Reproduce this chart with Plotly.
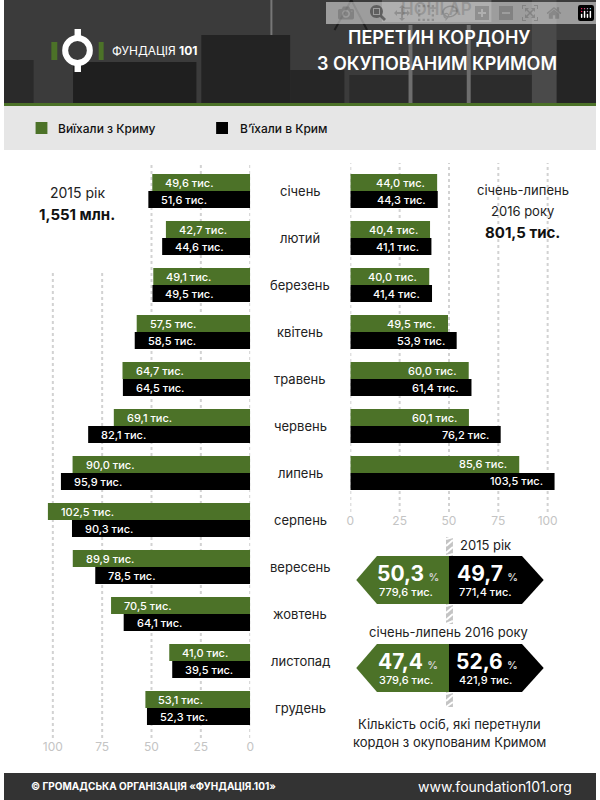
# перетин кордону з окупованим Кримом
import plotly.graph_objects as go
from plotly.subplots import make_subplots

months = ["січень", "лютий", "березень", "квітень", "травень", "червень",
          "липень", "серпень", "вересень", "жовтень", "листопад", "грудень"]
left_out = [49.6, 42.7, 49.1, 57.5, 64.7, 69.1, 90.0, 102.5, 89.9, 70.5, 41.0, 53.1]
left_in = [51.6, 44.6, 49.5, 58.5, 64.5, 82.1, 95.9, 90.3, 78.5, 64.1, 39.5, 52.3]
right_months = months[:7]
right_out = [44.0, 40.4, 40.0, 49.5, 60.0, 60.1, 85.6]
right_in = [44.3, 41.1, 41.4, 53.9, 61.4, 76.2, 103.5]
ticks = [0, 25, 50, 75, 100]

share_2015 = [50.3, 49.7]
count_2015 = [779.6, 771.4]
share_2016 = [47.4, 52.6]
count_2016 = [379.6, 421.9]

GREEN = "#4c7228"
BLACK = "#000000"
FONT = "Inter"
W, H = 600, 800


def fx(px):
    return px / W


def fy(px):
    return 1 - px / H


def num(v):
    return f"{v:.1f}".replace(".", ",")


def rect(x0, y0, x1, y1, color, layer="below"):
    return dict(type="rect", xref="paper", yref="paper", x0=fx(x0), x1=fx(x1), y0=fy(y0), y1=fy(y1),
                fillcolor=color, line_width=0, layer=layer)


def line(x0, y0, x1, y1, color, width, layer="below"):
    return dict(type="line", xref="paper", yref="paper", x0=fx(x0), x1=fx(x1), y0=fy(y0), y1=fy(y1),
                line=dict(color=color, width=width), layer=layer)


def poly(points, color):
    path = "M " + " L ".join(f"{fx(x):.5f},{fy(y):.5f}" for x, y in points) + " Z"
    return dict(type="path", xref="paper", yref="paper", path=path, fillcolor=color, line_width=0, layer="below")


def label(x, y, text, size=13, color="#222222", weight=400, anchor="center"):
    return dict(xref="paper", yref="paper", x=fx(x), y=fy(y), text=text, showarrow=False,
                xanchor=anchor, yanchor="middle", font=dict(family=FONT, size=size, color=color, weight=weight))


fig = make_subplots(rows=1, cols=2)

fig.add_bar(x=left_out, y=months, orientation="h", marker_color=GREEN, marker_line_width=0, row=1, col=1)
fig.add_bar(x=left_in, y=months, orientation="h", marker_color=BLACK, marker_line_width=0, row=1, col=1)
fig.add_bar(x=right_out, y=right_months, orientation="h", marker_color=GREEN, marker_line_width=0, row=1, col=2)
fig.add_bar(x=right_in, y=right_months, orientation="h", marker_color=BLACK, marker_line_width=0, row=1, col=2)

tick_style = dict(tickvals=ticks, ticktext=[str(t) for t in ticks], showgrid=False, zeroline=False, showline=False,
                  ticks="", tickfont=dict(family=FONT, size=12, color="#c4c4c4"))
fig.update_xaxes(range=[105, 0], domain=[fx(39.5), fx(249.5)], row=1, col=1, **tick_style)
fig.update_xaxes(range=[0, 105], domain=[fx(351), fx(561)], row=1, col=2, **tick_style)
fig.update_yaxes(type="category", categoryorder="array", categoryarray=months, range=[11.638, -0.596],
                 domain=[fy(738), fy(163)], visible=False, row=1, col=1)
fig.update_yaxes(type="category", categoryorder="array", categoryarray=right_months, range=[6.83, -0.596],
                 domain=[fy(512), fy(163)], visible=False, row=1, col=2)

shapes = []

# шапка: фото приблизно, фігурами
shapes += [
    rect(0, 0, W, 103, "#3b3b3b"),
    rect(383, 0, 494, 22, "#5f5f5f"),
    rect(200, 35, 290, 103, "#232323"),
    rect(70, 62, 195, 103, "#1f1f1f"),
    rect(0, 60, 30, 103, "#2a2a2a"),
    rect(290, 70, 345, 103, "#262626"),
    rect(350, 75, 560, 103, "#2c2c2c"),
    rect(560, 40, W, 103, "#252525"),
    rect(410, 25, 414, 103, "#6e6e6e"),
    rect(469, 25, 473, 103, "#6e6e6e"),
    rect(535, 0, 560, 103, "#4a4a4a"),
    line(271, 0, 271, 35, "#777777", 2),
    line(335, 30, 352, 0, "#1e1e1e", 2),
    line(352, 0, 368, 30, "#1e1e1e", 2),
    rect(0, 103, W, 106, GREEN),
    rect(0, 106, W, 150, "#e6e6e6"),
    rect(0, 773, W, 800, "#333333"),
]

# логотип
shapes += [
    rect(48, 42, 54, 60, GREEN, "above"),
    rect(96, 42, 101, 60, GREEN, "above"),
    rect(71.5, 29, 78, 72, "#ffffff", "above"),
    dict(type="circle", xref="paper", yref="paper", x0=fx(62), x1=fx(87), y0=fy(63), y1=fy(38),
         fillcolor="#3b3b3b", line=dict(color="#ffffff", width=6), layer="above"),
]

# легенда
shapes += [rect(32, 122, 44, 134, GREEN), rect(215, 122, 227, 134, BLACK)]

# пунктирні лінії сітки
for t in ticks:
    top = 163 if t <= 50 else 270
    shapes.append(dict(type="line", xref="x", yref="paper", x0=t, x1=t, y0=fy(738), y1=fy(top),
                       line=dict(color="#d2d2d2", width=2, dash="dot"), layer="below"))
    shapes.append(dict(type="line", xref="x2", yref="paper", x0=t, x1=t, y0=fy(512), y1=fy(163),
                       line=dict(color="#d2d2d2", width=2, dash="dot"), layer="below"))

# заштрихована смуга між блоками
for y0, y1 in [(537, 556), (604, 624), (692, 707)]:
    shapes.append(rect(448, y0, 455, y1, "#c4c4c4"))
    y = y0 + 2
    while y < y1 + 6:
        shapes.append(line(448, min(y, y1), 455, max(y - 6, y0), "#ffffff", 2))
        y += 7

# стрілки
for top in [556, 644]:
    mid, bot = top + 24, top + 48
    shapes.append(poly([(357, mid), (378, top), (451, top), (451, bot), (378, bot)], GREEN))
    shapes.append(poly([(451, top), (525, top), (547, mid), (525, bot), (451, bot)], BLACK))

ann = []

# підписи барів
for axis, names, values, shift in [("x", months, left_out, -8.5), ("x", months, left_in, 8.5)]:
    for name, v in zip(names, values):
        ann.append(dict(xref="x", yref="y", x=v, y=name, xshift=11, yshift=-shift, text=f"{num(v)} тис.",
                        showarrow=False, xanchor="left",
                        font=dict(family=FONT, size=11, color="#ffffff", weight=500)))
for names, values, shift in [(right_months, right_out, -8.5), (right_months, right_in, 8.5)]:
    for name, v in zip(names, values):
        ann.append(dict(xref="x2", yref="y2", x=v, y=name, xshift=-10, yshift=-shift, text=f"{num(v)} тис.",
                        showarrow=False, xanchor="right",
                        font=dict(family=FONT, size=11, color="#ffffff", weight=500)))

for i, m in enumerate(months):
    ann.append(dict(xref="paper", yref="y", x=fx(300), y=m, text=m, showarrow=False,
                    font=dict(family=FONT, size=13, color="#222222")))

ann += [
    label(441, 37, "ПЕРЕТИН КОРДОНУ", 18, "#ffffff", 600),
    label(439, 64, "З ОКУПОВАНИМ КРИМОМ", 18, "#ffffff", 600),
    label(107, 51, "ФУНДАЦІЯ <b>101</b>", 12, "#ffffff", 400, "left"),
    label(53, 128, "Виїхали з Криму", 12, "#111111", 500, "left"),
    label(237, 128, "В’їхали в Крим", 12, "#111111", 500, "left"),
    label(74, 192, "2015 рік", 14),
    label(74, 214, "1,551 млн.", 15, "#111111", 700),
    label(526, 190, "січень-липень", 13),
    label(526, 211, "2016 року", 13),
    label(526, 232, "801,5 тис.", 15, "#111111", 700),
    label(488, 545, "2015 рік", 13),
    label(451, 632, "січень-липень 2016 року", 13),
    label(452, 724, "Кількість осіб, які перетнули", 13),
    label(452, 742, "кордон з окупованим Кримом", 13),
    label(152, 786, "© ГРОМАДСЬКА ОРГАНІЗАЦІЯ «ФУНДАЦІЯ.101»", 10, "#ffffff", 700),
    label(498, 786, "www.foundation101.org", 14, "#ffffff", 400),
    label(438, 9, "НОНІ АР", 17, "#2c2c2c", 600),
]

for top, shares, counts in [(556, share_2015, count_2015), (644, share_2016, count_2016)]:
    for cx, s, c in zip([409, 490], shares, counts):
        ann.append(label(cx, top + 17, f"<b>{num(s)}</b> <span style='font-size:10px;color:#cccccc'>%</span>",
                         21, "#ffffff", 800))
        ann.append(label(cx - 2, top + 36, f"{num(c)} тис.", 11, "#ffffff", 500))

fig.update_layout(width=W, height=H, margin=dict(l=0, r=0, t=0, b=0), paper_bgcolor="#ffffff",
                  plot_bgcolor="rgba(0,0,0,0)", barmode="group", bargap=0.277, bargroupgap=0,
                  showlegend=False, shapes=shapes, annotations=ann)

fig.write_html("out.html", post_script="document.body.style.margin='0';document.body.style.overflow='hidden';")
